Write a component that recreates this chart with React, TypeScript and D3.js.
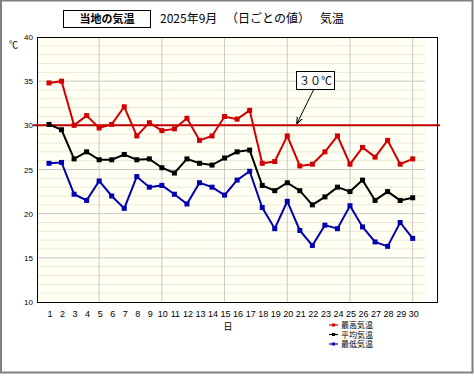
import React from "react";
import * as d3 from "d3";

const days = d3.range(1, 31);
const maxTemp = [34.8, 35.0, 30.0, 31.1, 29.7, 30.1, 32.1, 28.8, 30.3, 29.4, 29.6, 30.8, 28.3, 28.8, 31.0, 30.7, 31.7, 25.7, 25.9, 28.8, 25.4, 25.6, 27.0, 28.8, 25.6, 27.5, 26.4, 28.3, 25.6, 26.2];
const avgTemp = [30.1, 29.5, 26.2, 27.0, 26.1, 26.1, 26.7, 26.1, 26.2, 25.2, 24.6, 26.2, 25.7, 25.5, 26.3, 27.0, 27.2, 23.2, 22.6, 23.5, 22.6, 21.0, 21.9, 23.0, 22.5, 23.8, 21.5, 22.5, 21.5, 21.8];
const minTemp = [25.7, 25.8, 22.2, 21.5, 23.7, 22.0, 20.6, 24.2, 23.0, 23.2, 22.2, 21.1, 23.5, 23.0, 22.1, 23.8, 24.8, 20.7, 18.3, 21.4, 18.1, 16.4, 18.7, 18.3, 20.9, 18.5, 16.8, 16.3, 19.0, 17.2];
const yTicks = [10, 15, 20, 25, 30, 35, 40];
const seriesNames = ["最高気温", "平均気温", "最低気温"];
const seriesColors = ["#d00000", "#000000", "#0000b0"];
const refValue = 30;

export default function App() {
  const x = d3.scaleLinear().domain([1, 30]).range([49, 412.7]);
  const y = d3.scaleLinear().domain([10, 40]).range([302, 37]);
  const left = 37, right = 437, top = 37, bottom = 302, innerRight = 425;
  const line = d3.line<number>().x((_, i) => x(days[i])).y((d) => y(d));
  const series = [maxTemp, avgTemp, minTemp];
  const minor = d3.range(11, 40).filter((v) => v % 5 !== 0);
  const font = "'Liberation Sans', Arial, sans-serif";
  const jp = "'Noto Sans CJK JP', sans-serif";
  return (
    <svg width={474} height={376} style={{ position: "absolute", left: 0, top: 0, background: "#fff" }}>
      <rect x={1} y={0.5} width={471.5} height={372} fill="#fff" stroke="#808080" strokeWidth={2} />
      {/* title */}
      <rect x={63.5} y={10.5} width={87} height={17} fill="#fff" stroke="#000" strokeWidth={1} />
      <text x={107} y={23} textAnchor="middle" fontFamily={jp} fontSize={11} fontWeight="bold">当地の気温</text>
      <text x={160} y={23} fontFamily={jp} fontSize={12}>2025年9月</text>
      <text x={226} y={23} fontFamily={jp} fontSize={12}>（日ごとの値）</text>
      <text x={320} y={23} fontFamily={jp} fontSize={12}>気温</text>
      {/* plot background */}
      <rect x={left} y={top} width={right - left} height={bottom - top} fill="#fff" />
      <rect x={left} y={top} width={innerRight - left} height={bottom - top} fill="#fffff4" />
      {minor.map((v) => (
        <line key={"m" + v} x1={left} x2={innerRight} y1={y(v)} y2={y(v)} stroke="#ece8d4" strokeWidth={1} />
      ))}
      {yTicks.slice(1, -1).map((v) => (
        <line key={"M" + v} x1={left} x2={innerRight} y1={y(v)} y2={y(v)} stroke="#c8c8c8" strokeWidth={1} />
      ))}
      {[5, 10, 15, 20, 25, 30].map((d) => (
        <line key={"v" + d} x1={x(d)} x2={x(d)} y1={top} y2={bottom} stroke="#c8c8c8" strokeWidth={1} />
      ))}
      <rect x={left + 0.5} y={top + 0.5} width={right - left} height={bottom - top} fill="none" stroke="#000" strokeWidth={1} />
      {/* y ticks */}
      {yTicks.map((v) => (
        <text key={"yt" + v} x={33} y={y(v) + 3} textAnchor="end" fontFamily={font} fontSize={8}>{v}</text>
      ))}
      <text x={9} y={48} fontFamily={jp} fontSize={9}>℃</text>
      {/* x ticks */}
      {days.map((d) => (
        <text key={"xt" + d} x={x(d) + 1} y={317} textAnchor="middle" fontFamily={font} fontSize={9}>{d}</text>
      ))}
      <text x={228} y={330} textAnchor="middle" fontFamily={jp} fontSize={9}>日</text>
      {/* reference line */}
      <line x1={33} x2={440} y1={y(refValue)} y2={y(refValue)} stroke="#c00000" strokeWidth={2} />
      {/* series */}
      {series.map((s, i) => (
        <g key={"s" + i}>
          <path d={line(s) || ""} fill="none" stroke={seriesColors[i]} strokeWidth={2} />
          {s.map((v, j) => (
            <rect key={j} x={x(days[j]) - 2.5} y={y(v) - 2.5} width={5} height={5} fill={seriesColors[i]} />
          ))}
        </g>
      ))}
      {/* annotation */}
      <defs>
        <marker id="arr" viewBox="0 0 10 10" refX={9} refY={5} markerWidth={7} markerHeight={7} orient="auto">
          <path d="M0,1 L10,5 L0,9" fill="none" stroke="#000" strokeWidth={1.5} />
        </marker>
      </defs>
      <line x1={314} y1={89} x2={297} y2={y(refValue) - 2} stroke="#000" strokeWidth={1} markerEnd="url(#arr)" />
      <rect x={296.5} y={71.5} width={38} height={18} fill="#fff" stroke="#000" strokeWidth={1} />
      <text x={315.5} y={85} textAnchor="middle" fontFamily={jp} fontSize={11}>３０℃</text>
      {/* legend */}
      {seriesNames.map((n, i) => (
        <g key={"l" + i}>
          <line x1={329} x2={338} y1={325 + i * 9.5} y2={325 + i * 9.5} stroke={seriesColors[i]} strokeWidth={1.2} />
          <rect x={332} y={323.5 + i * 9.5} width={3} height={3} fill={seriesColors[i]} />
          <text x={341} y={328 + i * 9.5} fontFamily={jp} fontSize={8}>{n}</text>
        </g>
      ))}
    </svg>
  );
}
